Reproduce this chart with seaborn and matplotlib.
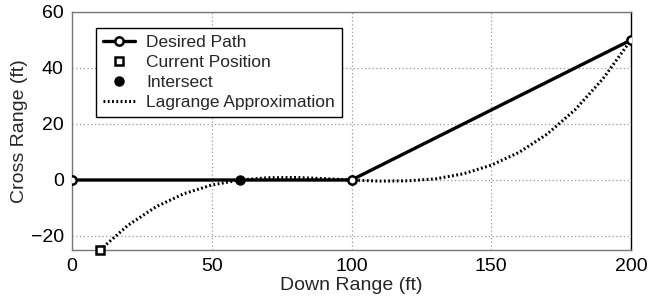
import matplotlib
matplotlib.use("Agg")
import matplotlib.pyplot as plt
import seaborn as sns
import pandas as pd

# Data
path_x = [0, 100, 200]
path_y = [0, 0, 50]
current_x = [10]
current_y = [-25]
intersect_x = [60]
intersect_y = [0]
lag_x = [10, 20, 30, 40, 50, 60, 70, 80, 90, 100, 110, 120, 130, 140, 150, 160, 170, 180, 190, 200]
lag_y = [-25, -16.2, -9.6, -4.9, -1.8, 0, 0.8, 0.9, 0.5, 0, -0.4, -0.3, 0.4, 2.2, 5.3, 9.9, 16.4, 25.1, 36.2, 50]
xticks = [0, 50, 100, 150, 200]
yticks = [-20, 0, 20, 40, 60]

sns.set_theme(style="white")
plt.rcParams['font.family'] = ['Liberation Sans', 'DejaVu Sans']

fig, ax = plt.subplots(figsize=(6.71, 3.02), dpi=100)
fig.subplots_adjust(left=72/671, right=631/671, top=1-12/302, bottom=1-250/302)

df_path = pd.DataFrame({"x": path_x, "y": path_y})
df_lag = pd.DataFrame({"x": lag_x, "y": lag_y})

sns.lineplot(data=df_path, x="x", y="y", ax=ax, color="black", lw=2.4,
             marker="o", markersize=6, markerfacecolor="white", markeredgecolor="black",
             markeredgewidth=1.8, label="Desired Path", zorder=4)
ax.plot(current_x, current_y, ls="none", marker="s", markersize=5.5, markerfacecolor="white",
        markeredgecolor="black", markeredgewidth=1.8, label="Current Position", zorder=5, clip_on=False)
ax.plot(intersect_x, intersect_y, ls="none", marker="o", markersize=6.5, color="black",
        label="Intersect", zorder=5)
sns.lineplot(data=df_lag, x="x", y="y", ax=ax, color="black", lw=2.2, ls=(0, (0.6, 0.8)),
             label="Lagrange Approximation", zorder=3)

ax.set_xlim(0, 200)
ax.set_ylim(-25, 60)
ax.set_xticks(xticks)
ax.set_yticks(yticks)
ax.grid(True, color="#999999", ls=(0, (1, 2)), lw=0.9)
for name, s in ax.spines.items():
    s.set_visible(True)
    s.set_color("#777777" if name != "right" else "black")
    s.set_linewidth(1.0)
ax.tick_params(direction="in", length=5, labelsize=14, colors="#777777", labelcolor="black", pad=6)
ax.set_xlabel("Down Range (ft)", fontsize=14, labelpad=1)
ax.set_ylabel("Cross Range (ft)", fontsize=14, labelpad=2)

leg = ax.legend(loc="upper left", bbox_to_anchor=(24/559, 222/238), fontsize=12.5, frameon=True,
                fancybox=False, edgecolor="black", framealpha=1, borderpad=0.4,
                labelspacing=0.27, handlelength=1.85, handletextpad=0.65, borderaxespad=0)
leg.get_frame().set_linewidth(1.0)

fig.savefig("out.png", dpi=100)
